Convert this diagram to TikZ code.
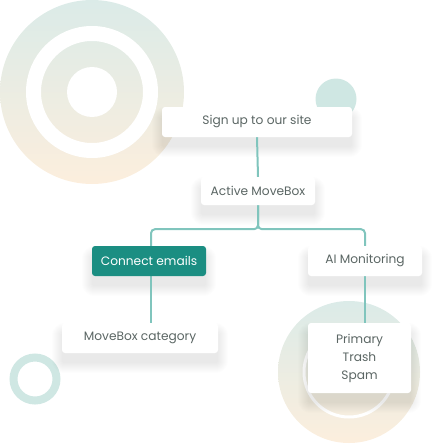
\documentclass[tikz,border=0pt]{standalone}
\usepackage{fontspec}
\setmainfont{Poppins}
\pgfdeclarelayer{deco}
\pgfdeclarelayer{shadow}
\pgfsetlayers{deco,shadow,main}
\definecolor{txt}{HTML}{5B6664}
\definecolor{conn}{HTML}{80C5BD}
\definecolor{teal}{HTML}{1B8E82}
\definecolor{gtop}{HTML}{DBEBE8}
\definecolor{gbot}{HTML}{FCEEDD}
\definecolor{deco}{HTML}{CFE7E3}
\tikzset{
  card/.style={fill=white, rounded corners=3pt, inner sep=0pt, text=txt,
    font=\fontsize{12.2}{18}\selectfont, align=center},
  accent/.style={card, fill=teal, text=white},
  link/.style={draw=conn, line width=2pt, rounded corners=4pt},
  softshadow/.style={fill=black, opacity=0.0065}
}
\newcommand{\mkshadow}[1]{%
  \foreach \k in {0,...,10}{%
    \fill[softshadow, rounded corners=3pt+\k pt]
      ([xshift=-\k pt, yshift=-10pt+\k pt]#1.north west) rectangle
      ([xshift=\k pt, yshift=-10pt-\k pt]#1.south east);
  }}
\begin{document}
\begin{tikzpicture}[x=1pt,y=-1pt]
\useasboundingbox (0,0) rectangle (446,444);
% nodes
\node[card, minimum width=190, minimum height=30] (signup) at (257,122) {Sign up to our site};
\node[card, minimum width=114, minimum height=28] (active) at (258,191) {Active MoveBox};
\node[accent, minimum width=114, minimum height=30] (cemail) at (149,261) {Connect emails};
\node[card, minimum width=114, minimum height=30] (aimon) at (365,261) {AI Monitoring};
\node[card, minimum width=156, minimum height=30] (mbcat) at (140,338) {MoveBox category};
\node[card, minimum width=103, minimum height=70] (folders) at (359.5,358) {Primary\\Trash\\Spam};
% decorations
\begin{pgfonlayer}{deco}
\shade[top color=gtop, bottom color=gbot] (92,92) circle (92);
\draw[white, line width=15] (92,92) circle (58.5);
\fill[white] (92,92) circle (25);
\fill[deco] (336,99) circle (20.5);
\shade[top color=gtop, bottom color=gbot] (349,372) circle (71);
\draw[white, line width=3] (349,372) circle (45);
\draw[deco, line width=8] (35,379) circle (21.5);
\end{pgfonlayer}
% shadows and connectors
\begin{pgfonlayer}{shadow}
\mkshadow{signup}
\mkshadow{active}
\mkshadow{cemail}
\mkshadow{aimon}
\mkshadow{mbcat}
\mkshadow{folders}
\draw[link] (signup.south) -- (active.north);
\draw[link] (active.south) -- ++(0,24) -| ([xshift=2]cemail.north);
\draw[link] (active.south) -- ++(0,24) -| (aimon.north);
\draw[link] ([xshift=2]cemail.south) -- ([xshift=2]cemail.south |- mbcat.north);
\draw[link] (aimon.south) -- (aimon.south |- folders.north);
\end{pgfonlayer}
\end{tikzpicture}
\end{document}
